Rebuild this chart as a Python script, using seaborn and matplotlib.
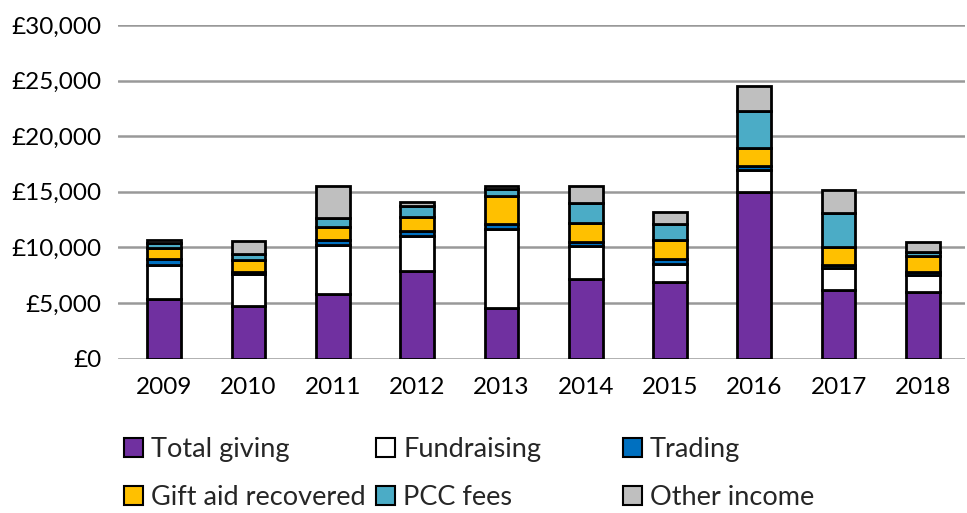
import matplotlib
matplotlib.use("Agg")
import matplotlib.pyplot as plt
import seaborn as sns
import numpy as np
from matplotlib.patches import Patch
from matplotlib.ticker import FuncFormatter

years = ["2009", "2010", "2011", "2012", "2013", "2014", "2015", "2016", "2017", "2018"]
total_giving = [5400, 4700, 5850, 7900, 4600, 7170, 6850, 15030, 6150, 6000]
fundraising = [3050, 2950, 4380, 3120, 7050, 2970, 1620, 1890, 1980, 1500]
trading = [500, 100, 450, 420, 480, 390, 510, 360, 300, 300]
gift_aid = [1000, 1150, 1200, 1320, 2520, 1710, 1650, 1650, 1650, 1440]
pcc_fees = [450, 540, 810, 960, 600, 1770, 1500, 3360, 3060, 390]
other_income = [300, 1100, 2850, 390, 300, 1470, 1020, 2250, 2070, 870]

series_names = ["Total giving", "Fundraising", "Trading", "Gift aid recovered", "PCC fees", "Other income"]
series_vals = [total_giving, fundraising, trading, gift_aid, pcc_fees, other_income]
colors = ["#7030A0", "#FFFFFF", "#0070C0", "#FFC000", "#4BACC6", "#BFBFBF"]

sns.set_theme(style="white")
plt.rcParams["font.family"] = ["Lato", "DejaVu Sans"]

fig = plt.figure(figsize=(9.67, 5.13), dpi=100)
ax = fig.add_axes([0.122, 0.3008, 0.876, 0.6505])

bottom = np.zeros(len(years))
for name, vals, col in zip(series_names, series_vals, colors):
    sns.barplot(x=years, y=vals, bottom=bottom, color=col, edgecolor="black",
                linewidth=2, width=0.4, ax=ax, saturation=1, label=name)
    bottom = bottom + np.array(vals)

ax.set_ylim(0, 30000)
ax.set_yticks(np.arange(0, 30001, 5000))
ax.yaxis.set_major_formatter(FuncFormatter(lambda v, p: f"£{int(v):,}"))
ax.grid(axis="y", color="#999999", linewidth=1.8)
ax.set_axisbelow(True)
for s in ax.spines.values():
    s.set_visible(False)
ax.tick_params(axis="both", labelsize=17.5, colors="black", length=0)
ax.tick_params(axis="y", pad=12)
ax.tick_params(axis="x", pad=13)
ax.set_xlim(-0.55, 9.5)
if ax.get_legend():
    ax.get_legend().remove()

handles = [Patch(facecolor=c, edgecolor="black", linewidth=1.5) for c in colors]
cols = [(0, 3), (1, 4), (2, 5)]
xs = [0.128, 0.389, 0.644]
for (i, j), x in zip(cols, xs):
    fig.legend([handles[i], handles[j]], [series_names[i], series_names[j]],
               loc="upper left", bbox_to_anchor=(x, 0.148), frameon=False,
               fontsize=19.5, handlelength=0.7, handleheight=0.7, handletextpad=0.3,
               labelspacing=0.85, borderpad=0, borderaxespad=0)

fig.savefig("out.png", dpi=100)
